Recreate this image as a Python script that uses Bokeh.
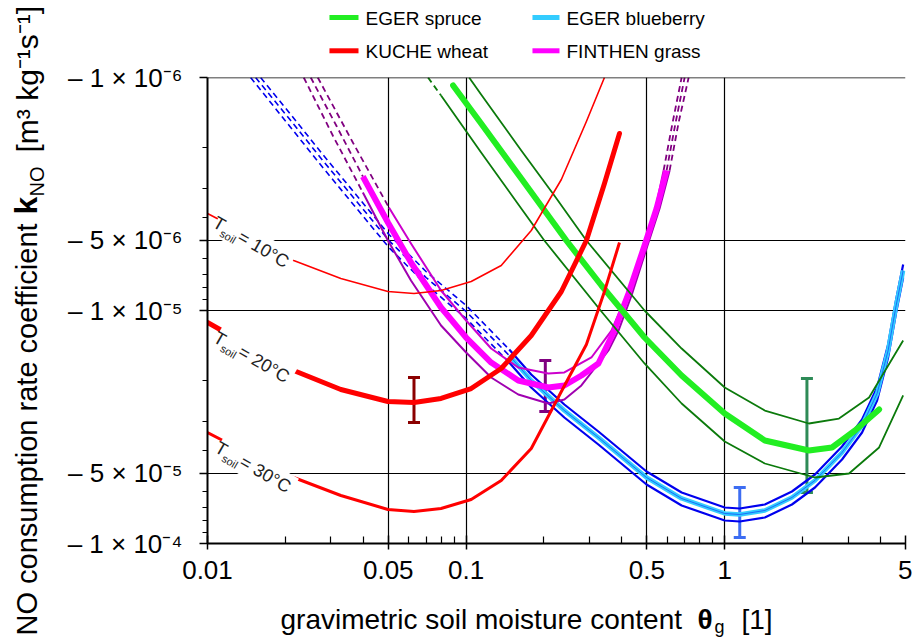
import math
from bokeh.plotting import figure
from bokeh.models import (Range1d, FixedTicker, CustomJSTickFormatter, Label, Span,
                          Whisker, TeeHead, ColumnDataSource)
from bokeh.core.properties import value
from bokeh.embed import file_html
from bokeh.resources import INLINE

FONT = "Liberation Sans"

# ---------------- axes ----------------
x_major = [0.01, 0.05, 0.1, 0.5, 1, 5]
x_minor = [0.02, 0.03, 0.04, 0.06, 0.07, 0.08, 0.09, 0.2, 0.3, 0.4, 0.6, 0.7, 0.8, 0.9, 2, 3, 4]
x_grid = [0.05, 0.1, 0.5, 1]
y_major = [1e-6, 5e-6, 1e-5, 5e-5, 1e-4]
y_minor = [2e-6, 3e-6, 4e-6, 6e-6, 7e-6, 8e-6, 9e-6, 2e-5, 3e-5, 4e-5, 6e-5, 7e-5, 8e-5, 9e-5]
y_grid = [5e-6, 1e-5, 5e-5]
y_tick_labels = ["\u2013 1 \u00d7 10\u207b\u2076", "\u2013 5 \u00d7 10\u207b\u2076", "\u2013 1 \u00d7 10\u207b\u2075",
                 "\u2013 5 \u00d7 10\u207b\u2075", "\u2013 1 \u00d7 10\u207b\u2074"]

# ---------------- KUCHE wheat (|k_NO| for three soil temperatures) ----------------
kuche_theta_10 = [0.0100, 0.01228, 0.01605, 0.02154, 0.03278, 0.04985, 0.06287, 0.0800, 0.1046, 0.1367, 0.1786, 0.2335, 0.2918, 0.3427]
kuche_k_10 = [3.834e-6, 4.317e-6, 5.158e-6, 6.101e-6, 7.289e-6, 8.288e-6, 8.454e-6, 8.207e-6, 7.508e-6, 6.410e-6, 4.536e-6, 2.740e-6, 1.545e-6, 1.000e-6]
kuche_theta_20 = [0.0100, 0.01228, 0.01605, 0.02154, 0.03278, 0.04985, 0.06287, 0.0800, 0.1046, 0.1367, 0.1786, 0.2335, 0.2918, 0.3427, 0.3918]
kuche_k_20 = [11.26e-6, 12.80e-6, 15.15e-6, 18.09e-6, 21.83e-6, 24.58e-6, 24.82e-6, 23.86e-6, 21.62e-6, 17.74e-6, 12.80e-6, 8.288e-6, 5.007e-6, 2.851e-6, 1.739e-6]
kuche_theta_30 = [0.0100, 0.01228, 0.01605, 0.02154, 0.03278, 0.04985, 0.06287, 0.0800, 0.1046, 0.1367, 0.1786, 0.2335, 0.2918, 0.3427, 0.3918]
kuche_k_30 = [33.39e-6, 37.59e-6, 44.91e-6, 52.09e-6, 62.23e-6, 71.46e-6, 72.89e-6, 70.76e-6, 64.74e-6, 53.66e-6, 39.11e-6, 22.27e-6, 13.99e-6, 8.288e-6, 5.107e-6]

# ---------------- EGER spruce ----------------
spruce_theta = [0.08905, 0.1143, 0.1634, 0.2441, 0.3336, 0.4897, 0.6813, 1.000, 1.429, 2.116, 2.599, 3.190, 3.953]
spruce_k = [1.082e-6, 1.576e-6, 2.713e-6, 5.007e-6, 7.811e-6, 13.06e-6, 19.01e-6, 27.67e-6, 36.14e-6, 39.89e-6, 38.72e-6, 32.74e-6, 26.60e-6]
spruce_hi_theta = [0.1027, 0.1143, 0.1634, 0.2193, 0.2918, 0.4897, 0.6813, 1.000, 1.429, 2.116, 2.766, 3.615, 4.897]
spruce_hi_k = [1.000e-6, 1.183e-6, 2.057e-6, 3.210e-6, 5.007e-6, 10.00e-6, 14.56e-6, 21.40e-6, 26.87e-6, 30.55e-6, 29.08e-6, 23.63e-6, 13.45e-6]
spruce_lo_theta = [0.0800, 0.1143, 0.1634, 0.2006, 0.3336, 0.4897, 0.6813, 1.000, 1.429, 2.233, 3.024, 3.953, 4.897]
spruce_lo_k = [1.195e-6, 2.098e-6, 3.650e-6, 5.007e-6, 10.10e-6, 16.88e-6, 25.07e-6, 36.50e-6, 45.36e-6, 52.09e-6, 50.07e-6, 38.72e-6, 23.16e-6]
spruce_lo_dash_theta = [0.07124, 0.0800]
spruce_lo_dash_k = [1.000e-6, 1.195e-6]

# ---------------- EGER blueberry ----------------
blue_dash_theta_c = [0.01535, 0.02098, 0.02791, 0.03747, 0.05030, 0.06998, 0.1000, 0.1468]
blue_dash_k_c = [1.000e-6, 1.530e-6, 2.271e-6, 3.372e-6, 5.007e-6, 7.217e-6, 10.10e-6, 15.60e-6]
blue_dash_theta_hi = [0.01605, 0.02098, 0.02791, 0.03747, 0.05030, 0.06998, 0.1000, 0.1468]
blue_dash_k_hi = [1.000e-6, 1.441e-6, 2.140e-6, 3.178e-6, 4.719e-6, 6.802e-6, 9.518e-6, 14.70e-6]
blue_dash_theta_lo = [0.01468, 0.02098, 0.02791, 0.03747, 0.05030, 0.06998, 0.1000, 0.1468]
blue_dash_k_lo = [1.000e-6, 1.639e-6, 2.434e-6, 3.614e-6, 5.366e-6, 7.734e-6, 10.82e-6, 16.72e-6]
blue_theta = [0.1468, 0.1785, 0.2398, 0.3247, 0.4985, 0.6813, 1.000, 1.143, 1.429, 1.819, 2.233, 2.841, 3.396, 3.883, 4.283, 4.600, 4.897]
blue_k_c = [15.60e-6, 19.97e-6, 26.87e-6, 35.08e-6, 52.09e-6, 64.10e-6, 74.34e-6, 75.08e-6, 72.17e-6, 63.47e-6, 53.66e-6, 40.69e-6, 31.16e-6, 22.71e-6, 14.85e-6, 9.518e-6, 6.735e-6]
blue_k_hi = [14.70e-6, 18.82e-6, 25.32e-6, 33.06e-6, 49.09e-6, 60.41e-6, 70.06e-6, 70.76e-6, 68.02e-6, 59.82e-6, 50.57e-6, 38.34e-6, 29.36e-6, 21.40e-6, 13.99e-6, 8.970e-6, 6.347e-6]
blue_k_lo = [16.72e-6, 21.40e-6, 28.79e-6, 37.59e-6, 55.82e-6, 68.69e-6, 79.67e-6, 80.46e-6, 77.34e-6, 68.02e-6, 57.50e-6, 43.60e-6, 33.39e-6, 24.34e-6, 15.91e-6, 10.20e-6, 7.217e-6]

# ---------------- FINTHEN grass ----------------
grass_theta = [0.03988, 0.04985, 0.06121, 0.0800, 0.1000, 0.1250, 0.1591, 0.2079, 0.2398, 0.2791, 0.3247, 0.3747, 0.4245, 0.4897, 0.5451, 0.5959]
grass_k = [2.660e-6, 4.191e-6, 6.223e-6, 9.708e-6, 13.06e-6, 16.72e-6, 19.97e-6, 21.40e-6, 20.98e-6, 19.01e-6, 16.88e-6, 12.19e-6, 8.454e-6, 5.261e-6, 3.650e-6, 2.507e-6]
grass_hi_theta = [0.05030, 0.06121, 0.0800, 0.1000, 0.1250, 0.1591, 0.2079, 0.2398, 0.3051, 0.3648, 0.4170, 0.4810, 0.5402, 0.5802]
grass_hi_k = [3.614e-6, 5.158e-6, 8.207e-6, 11.04e-6, 14.56e-6, 17.57e-6, 18.64e-6, 18.45e-6, 15.91e-6, 12.19e-6, 8.622e-6, 5.419e-6, 3.650e-6, 2.507e-6]
grass_lo_theta = [0.03988, 0.04985, 0.06121, 0.0800, 0.1000, 0.1250, 0.1591, 0.2079, 0.2398, 0.2791, 0.3551, 0.3883, 0.4361, 0.4985, 0.5598, 0.6121]
grass_lo_k = [3.116e-6, 5.007e-6, 7.434e-6, 11.60e-6, 15.15e-6, 19.39e-6, 22.94e-6, 25.07e-6, 24.10e-6, 20.98e-6, 14.85e-6, 12.19e-6, 8.622e-6, 5.419e-6, 3.650e-6, 2.507e-6]
grass_dash_l_theta = [0.02507, 0.03162, 0.03988]
grass_dash_l_k = [1.000e-6, 1.623e-6, 2.660e-6]
grass_dash_r_theta = [0.5959, 0.6458, 0.6998]
grass_dash_r_k = [2.507e-6, 1.560e-6, 1.000e-6]
grass_hi_dash_l_theta = [0.02669, 0.03648, 0.05030]
grass_hi_dash_l_k = [1.000e-6, 1.901e-6, 3.614e-6]
grass_hi_dash_r_theta = [0.5802, 0.6287, 0.6813]
grass_hi_dash_r_k = [2.507e-6, 1.560e-6, 1.000e-6]
grass_lo_dash_l_theta = [0.02356, 0.03051, 0.03988]
grass_lo_dash_l_k = [1.000e-6, 1.774e-6, 3.116e-6]
grass_lo_dash_r_theta = [0.6121, 0.6633, 0.7252]
grass_lo_dash_r_k = [2.507e-6, 1.560e-6, 1.000e-6]

# ---------------- error bars ----------------
err_names = ["KUCHE", "FINTHEN", "EGER blueberry", "EGER spruce"]
err_theta = [0.06287, 0.2024, 1.143, 2.079]
err_k_small = [19.39e-6, 16.39e-6, 57.50e-6, 19.58e-6]
err_k_large = [30.25e-6, 27.13e-6, 94.24e-6, 60.41e-6]
err_colors = ["#8b0000", "#800080", "#3d6df2", "#2e8b57"]

legend_names = ["EGER spruce", "EGER blueberry", "KUCHE wheat", "FINTHEN grass"]
legend_colors = ["#22ee22", "#33ccff", "#ff0000", "#ff00ff"]

# ---------------- figure ----------------
p = figure(width=912, height=637, x_axis_type="log", y_axis_type="log",
           x_range=Range1d(0.01, 5), y_range=Range1d(1e-4, 1e-6),
           output_backend="svg", toolbar_location=None,
           min_border_left=207, min_border_right=7, min_border_top=77, min_border_bottom=94)
p.outline_line_color = None
p.background_fill_color = "white"
p.border_fill_color = "white"

p.xgrid.ticker = FixedTicker(ticks=x_grid)
p.ygrid.ticker = FixedTicker(ticks=y_grid)
for g in (p.xgrid, p.ygrid):
    g.grid_line_color = "black"
    g.grid_line_width = 1.2

xa = p.xaxis[0]
xa.ticker = FixedTicker(ticks=x_major, minor_ticks=x_minor)
xa.formatter = CustomJSTickFormatter(code="return String(tick);")
xa.major_label_text_font = FONT
xa.major_label_text_font_size = "26px"
xa.major_label_text_color = "black"
xa.major_label_standoff = 11
xa.axis_line_width = 2
xa.major_tick_line_width = 1.5
xa.minor_tick_line_width = 1.2
xa.major_tick_in = 8
xa.major_tick_out = 6
xa.minor_tick_in = 7
xa.minor_tick_out = 0

ya = p.yaxis[0]
ya.ticker = FixedTicker(ticks=y_major, minor_ticks=y_minor)
ya.formatter = CustomJSTickFormatter(args=dict(vals=y_major, labs=y_tick_labels), code="""
for (let i = 0; i < vals.length; i++) {
  if (Math.abs(Math.log10(tick) - Math.log10(vals[i])) < 1e-6) { return labs[i]; }
}
return '';
""")
ya.major_label_text_font = FONT
ya.major_label_text_font_size = "26px"
ya.major_label_text_color = "black"
ya.major_label_standoff = 17
ya.axis_line_width = 2
ya.major_tick_line_width = 1.5
ya.minor_tick_line_width = 1.2
ya.major_tick_in = 0
ya.major_tick_out = 8
ya.minor_tick_in = 0
ya.minor_tick_out = 5

p.add_layout(Span(location=1e-6, dimension="width", line_color="black", line_width=1.5))

# ---------------- curves ----------------
DASH = "6 4"
LJ = "round"
# blueberry
p.line(blue_dash_theta_hi, blue_dash_k_hi, line_color="#0000ee", line_width=1.6, line_dash=DASH)
p.line(blue_dash_theta_c, blue_dash_k_c, line_color="#0000ee", line_width=1.6, line_dash=DASH)
p.line(blue_dash_theta_lo, blue_dash_k_lo, line_color="#0000ee", line_width=1.6, line_dash=DASH)
p.line(blue_theta, blue_k_hi, line_color="#0000ee", line_width=2.2, line_join=LJ)
p.line(blue_theta, blue_k_lo, line_color="#0000ee", line_width=2.2, line_join=LJ)
p.line(blue_theta, blue_k_c, line_color="#33ccff", line_width=4.5, line_join=LJ)
p.line(blue_theta, blue_k_c, line_color="#0000ee", line_width=0.8, line_alpha=0.6, line_join=LJ)

# grass
for th, kk in [(grass_dash_l_theta, grass_dash_l_k), (grass_dash_r_theta, grass_dash_r_k),
               (grass_hi_dash_l_theta, grass_hi_dash_l_k), (grass_hi_dash_r_theta, grass_hi_dash_r_k),
               (grass_lo_dash_l_theta, grass_lo_dash_l_k), (grass_lo_dash_r_theta, grass_lo_dash_r_k)]:
    p.line(th, kk, line_color="#800080", line_width=1.8, line_dash=DASH)
p.line(grass_hi_theta, grass_hi_k, line_color="#cc00cc", line_width=2, line_join=LJ)
p.line(grass_lo_theta, grass_lo_k, line_color="#a000b0", line_width=2, line_join=LJ)
p.line(grass_theta, grass_k, line_color="#ff00ff", line_width=6, line_join=LJ)

# spruce
p.line(spruce_lo_dash_theta, spruce_lo_dash_k, line_color="#0b7a0b", line_width=1.8, line_dash=DASH)
p.line(spruce_hi_theta, spruce_hi_k, line_color="#0b7a0b", line_width=1.8, line_join=LJ)
p.line(spruce_lo_theta, spruce_lo_k, line_color="#0b7a0b", line_width=1.8, line_join=LJ)
p.line(spruce_theta, spruce_k, line_color="#22ee22", line_width=6, line_cap="round", line_join=LJ)

# kuche
p.line(kuche_theta_10, kuche_k_10, line_color="#ff0000", line_width=1.6, line_join=LJ)
p.line(kuche_theta_20, kuche_k_20, line_color="#ff0000", line_width=5, line_cap="round", line_join=LJ)
p.line(kuche_theta_30, kuche_k_30, line_color="#ff0000", line_width=3, line_join=LJ)

# white boxes behind the temperature labels
ANG = -math.radians(30)
p.rect(x=[0.01502, 0.01509, 0.01529], y=[5.153e-6, 16.05e-6, 47.61e-6], width=86, height=26,
       width_units="screen", height_units="screen", angle=ANG,
       fill_color="white", line_color=None)

# error bars
for i in range(len(err_theta)):
    src = ColumnDataSource(dict(x=[err_theta[i]], lo=[err_k_large[i]], hi=[err_k_small[i]]))
    c = err_colors[i]
    p.add_layout(Whisker(base="x", upper="hi", lower="lo", source=src, dimension="height",
                         line_color=c, line_width=3,
                         upper_head=TeeHead(size=12, line_color=c, line_width=3),
                         lower_head=TeeHead(size=12, line_color=c, line_width=3)))

# temperature labels (inside the frame)
temp_anchor_theta = [0.010364, 0.010410, 0.010550]
temp_anchor_k = [4.403e-6, 13.72e-6, 40.69e-6]
temp_text = ["= 10\u00b0C", "= 20\u00b0C", "= 30\u00b0C"]
for th, kk, tt in zip(temp_anchor_theta, temp_anchor_k, temp_text):
    common = dict(x=th, y=kk, angle=ANG, text_font=FONT, text_color="#222222",
                  text_baseline="middle", text_align="left")
    p.add_layout(Label(text="T", text_font_size="18px", x_offset=3.1, y_offset=6.4, **common))
    p.add_layout(Label(text="soil", text_font_size="11px", x_offset=9.3, y_offset=-4.9, **common))
    p.add_layout(Label(text=tt, text_font_size="18px", x_offset=27.8, y_offset=-7.9, **common))

# ---------------- texts outside the frame (overlay-level text glyphs) ----------------
def outer_text(x, y, text, size, angle=0.0, bold=False, align="left"):
    p.text(x=[x], y=[y], text=[text], angle=angle, level="overlay",
           text_font=value(FONT), text_font_size=value(size),
           text_font_style="bold" if bold else "normal", text_color="black",
           text_align=align, text_baseline="middle")

# y axis title (reads upward)
outer_text(0.0020128, 2.4823e-4, "NO consumption rate coefficient", "29px", angle=math.pi / 2)
outer_text(0.0019941, 3.8726e-6, "k", "32px", angle=math.pi / 2, bold=True)
outer_text(0.0021850, 3.2415e-6, "NO", "20px", angle=math.pi / 2)
outer_text(0.0020065, 2.0984e-6, "[m\u00b3 kg\u207b\u00b9s\u207b\u00b9]", "30px", angle=math.pi / 2)

# x axis title
outer_text(0.019155, 2.1254e-4, "gravimetric soil moisture content", "28px")
outer_text(0.78478, 2.1254e-4, "\u03b8", "28px", bold=True)
outer_text(0.91289, 2.2882e-4, "g", "18px")
outer_text(1.16103, 2.1254e-4, "[1]", "28px")

# legend
leg_x0 = [0.029618, 0.18053, 0.029618, 0.18053]
leg_x1 = [0.038360, 0.22965, 0.038360, 0.22965]
leg_y = [5.5262e-7, 5.5262e-7, 7.6803e-7, 7.6803e-7]
leg_tx = [0.040831, 0.24441, 0.040831, 0.24441]
leg_ty = [5.5976e-7, 5.5976e-7, 7.7183e-7, 7.7183e-7]
for i, (name, col) in enumerate(zip(legend_names, legend_colors)):
    p.segment(x0=[leg_x0[i]], y0=[leg_y[i]], x1=[leg_x1[i]], y1=[leg_y[i]],
              line_color=col, line_width=5, level="overlay")
    outer_text(leg_tx[i], leg_ty[i], name, "19px")

open("out.html", "w").write(file_html(p, INLINE))
